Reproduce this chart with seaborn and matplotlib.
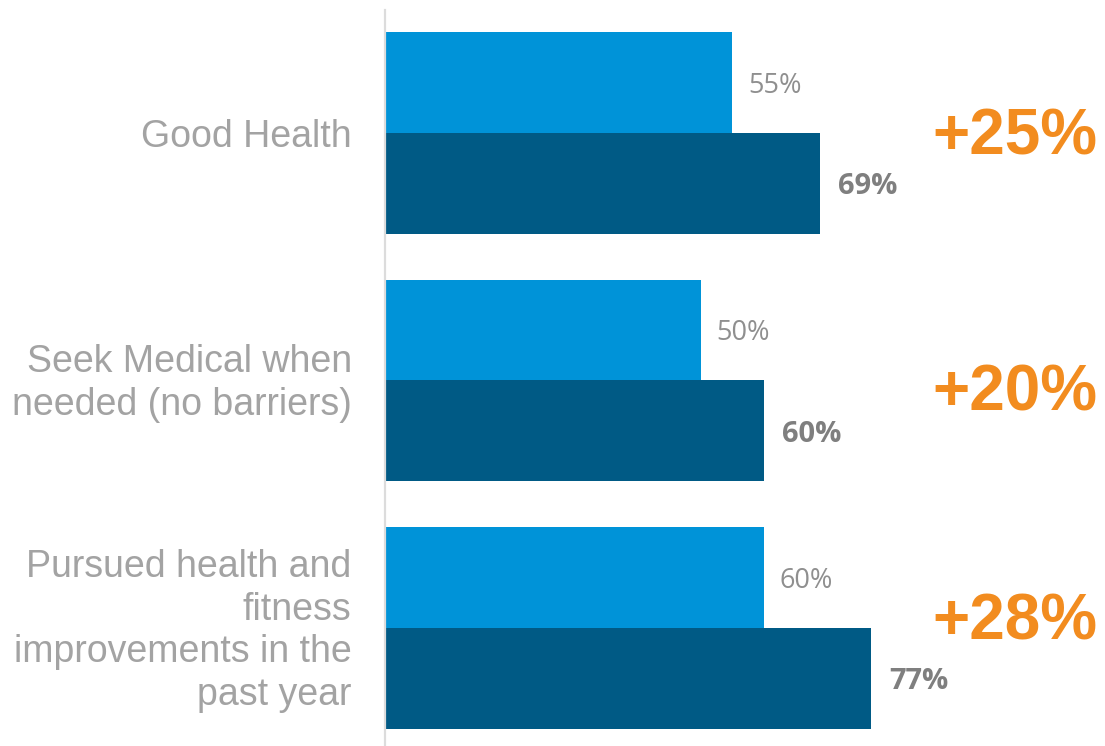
import matplotlib
matplotlib.use("Agg")
import matplotlib.pyplot as plt
import matplotlib.transforms as mtransforms
import seaborn as sns
import pandas as pd

# Survey outcomes, share of respondents (%)
categories = [
    "Good Health",
    "Seek Medical when\nneeded (no barriers)",
    "Pursued health and\nfitness\nimprovements in the\npast year",
]
baseline = [55, 50, 60]
engaged = [69, 60, 77]
uplift_labels = ["+25%", "+20%", "+28%"]
series_names = ["Baseline", "Engaged"]

df = pd.DataFrame({
    "category": categories * 2,
    "value": baseline + engaged,
    "series": [series_names[0]] * 3 + [series_names[1]] * 3,
})

sns.set_theme(style="white")
plt.rcParams["font.family"] = ["Liberation Sans", "DejaVu Sans"]

W, H = 1105, 746
fig = plt.figure(figsize=(W / 100, H / 100), dpi=100)
ax = fig.add_axes([385 / W, 0, 1 - 385 / W, 736 / H])

palette = {series_names[0]: "#0093D8", series_names[1]: "#005A85"}
sns.barplot(
    data=df, y="category", x="value", hue="series",
    hue_order=series_names, order=categories, orient="h",
    palette=palette, width=0.816, gap=0, saturation=1,
    linewidth=0, edgecolor="none",
    legend=False, ax=ax,
)

ax.set_xlim(0, 114.1)
ax.set_ylim(2.477, -0.497)
ax.set_xlabel("")
ax.set_ylabel("")
ax.set_xticks([])

for side in ["top", "right", "bottom"]:
    ax.spines[side].set_visible(False)
ax.spines["left"].set_color("#dcdcdc")
ax.spines["left"].set_linewidth(1.6)

ax.tick_params(axis="y", length=0, pad=24, labelsize=27, labelcolor="#a3a3a3")
lift = mtransforms.ScaledTranslation(0, 3 / 72, fig.dpi_scale_trans)
for lbl in ax.get_yticklabels():
    lbl.set_linespacing(1.23)
    if "\n" in lbl.get_text():
        lbl.set_transform(lbl.get_transform() + lift)

# Value labels next to each bar
light_labels = ax.bar_label(ax.containers[0], labels=[f"{v}%" for v in baseline],
                            padding=11.5, fontsize=19.5, color="#8f8f8f",
                            family="Open Sans")
dark_labels = ax.bar_label(ax.containers[1], labels=[f"{v}%" for v in engaged],
                           padding=13, fontsize=21, fontweight="bold",
                           color="#7f7f7f", family="Open Sans")
for ann in light_labels + dark_labels:
    dx, dy = ann.xyann
    ann.xyann = (dx, dy - 2.2)

# Relative uplift callouts on the right
offsets_pt = [-3.5, -9.5, 4]
for i, (txt, dy) in enumerate(zip(uplift_labels, offsets_pt)):
    ax.annotate(txt, xy=(112.9, i), xytext=(0, dy), textcoords="offset points",
                ha="right", va="center", fontsize=46, fontweight="bold",
                color="#F28C1F")

fig.savefig("out.png", dpi=100)
